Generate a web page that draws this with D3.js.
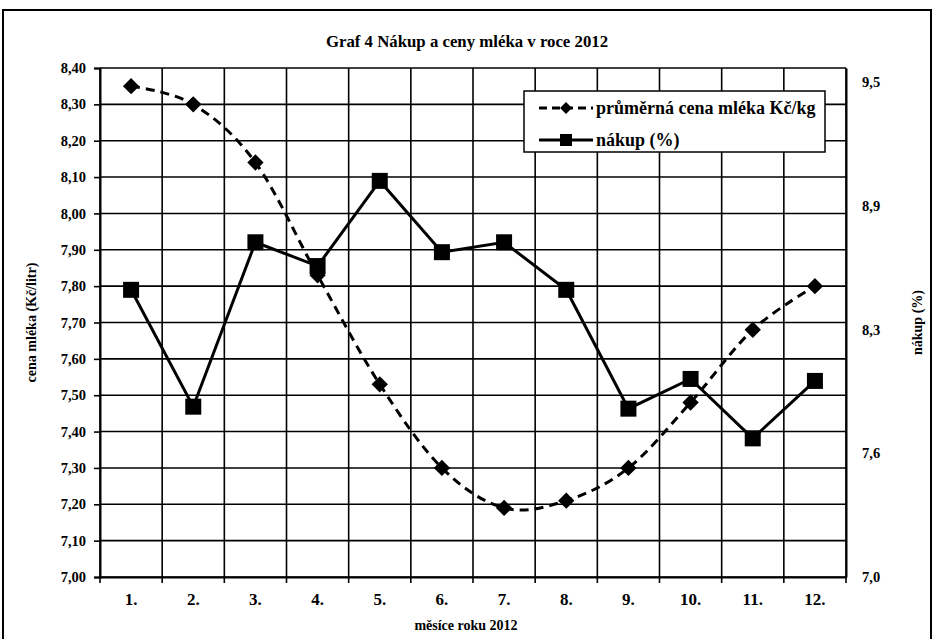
<!DOCTYPE html>
<html>
<head>
<meta charset="utf-8">
<script src="https://cdn.jsdelivr.net/npm/d3@7"></script>
<style>
  html, body { margin: 0; padding: 0; background: #fff; }
  svg { display: block; font-family: "Liberation Serif", "Times New Roman", serif; font-weight: bold; }
</style>
</head>
<body>
<svg id="chart" width="933" height="639"></svg>
<script>
// Months of 2012
const months = ["1.", "2.", "3.", "4.", "5.", "6.", "7.", "8.", "9.", "10.", "11.", "12."];
// Average milk price (Kč/litr), left axis
const price = [8.35, 8.30, 8.14, 7.83, 7.53, 7.30, 7.19, 7.21, 7.30, 7.48, 7.68, 7.80];
// Purchase (%), right axis
const purchase = [8.45, 7.86, 8.69, 8.57, 9.00, 8.64, 8.69, 8.45, 7.85, 8.00, 7.70, 7.99];
// Axis ticks
const leftTicks = d3.range(0, 15).map(i => 7 + i * 0.1);
const rightTicks = [7.0, 7.625, 8.25, 8.875, 9.5];

const svg = d3.select("#chart");
const W = 933, H = 639;
const plot = { left: 100, top: 68, right: 846, bottom: 577 };
const FONT = "Liberation Serif";

// outer frame
svg.append("rect").attr("x", 3).attr("y", 10).attr("width", W - 5).attr("height", H - 9)
  .attr("fill", "none").attr("stroke", "#000").attr("stroke-width", 2);

const x = d3.scaleBand().domain(months).range([plot.left, plot.right]).padding(0);
const yL = d3.scaleLinear().domain([7.0, 8.4]).range([plot.bottom, plot.top]);
const yR = d3.scaleLinear().domain([7.0, 9.57]).range([plot.bottom, plot.top]);
const fmt2 = d => d3.format(".2f")(d).replace(".", ",");
const fmt1 = d => d3.format(".1f")(d).replace(".", ",");

// horizontal gridlines
svg.append("g").selectAll("line").data(leftTicks).join("line")
  .attr("x1", plot.left).attr("x2", plot.right)
  .attr("y1", d => yL(d)).attr("y2", d => yL(d))
  .attr("stroke", "#000").attr("stroke-width", 1.6);

// vertical gridlines at category boundaries
const bounds = months.map(m => x(m)).concat([plot.right]);
svg.append("g").selectAll("line").data(bounds).join("line")
  .attr("x1", d => d).attr("x2", d => d)
  .attr("y1", plot.top).attr("y2", plot.bottom)
  .attr("stroke", "#000").attr("stroke-width", 1.6);

// left axis
const gL = svg.append("g").attr("transform", `translate(${plot.left},0)`)
  .call(d3.axisLeft(yL).tickValues(leftTicks).tickFormat(fmt2).tickSize(6).tickPadding(8));
gL.select(".domain").attr("stroke-width", 2);
gL.selectAll(".tick line").attr("stroke-width", 1.6);
gL.selectAll("text").attr("font-size", 14.5).attr("font-family", FONT).attr("font-weight", "bold").attr("fill", "#000");

// bottom axis
const gB = svg.append("g").attr("transform", `translate(0,${plot.bottom})`)
  .call(d3.axisBottom(x).tickSize(0).tickPadding(16));
gB.select(".domain").attr("stroke-width", 2);
gB.selectAll("text").attr("font-size", 17).attr("font-family", FONT).attr("font-weight", "bold").attr("fill", "#000");
// bottom tick marks at category boundaries
svg.append("g").selectAll("line").data(bounds).join("line")
  .attr("x1", d => d).attr("x2", d => d)
  .attr("y1", plot.bottom).attr("y2", plot.bottom + 6)
  .attr("stroke", "#000").attr("stroke-width", 1.6);

// right axis labels
const gR = svg.append("g").attr("transform", `translate(${plot.right},0)`)
  .call(d3.axisRight(yR).tickValues(rightTicks).tickFormat(fmt1).tickSize(0).tickPadding(16));
gR.select(".domain").attr("stroke-width", 2);
gR.selectAll("text").attr("font-size", 14.5).attr("font-family", FONT).attr("font-weight", "bold").attr("fill", "#000");

// title
svg.append("text").attr("x", 467).attr("y", 47).attr("text-anchor", "middle")
  .attr("font-size", 16.8).text("Graf 4 Nákup a ceny mléka v roce 2012");

// axis titles
svg.append("text").attr("x", 466).attr("y", 630).attr("text-anchor", "middle")
  .attr("font-size", 14).text("měsíce roku 2012");
svg.append("text").attr("transform", `translate(36,${(plot.top + plot.bottom) / 2}) rotate(-90)`)
  .attr("text-anchor", "middle").attr("font-size", 14).text("cena mléka (Kč/litr)");
svg.append("text").attr("transform", `translate(922,${(plot.top + plot.bottom) / 2}) rotate(-90)`)
  .attr("text-anchor", "middle").attr("font-size", 14).text("nákup (%)");

const cx = m => x(m) + x.bandwidth() / 2;

// price line (smoothed, dashed)
const priceLine = d3.line().x((d, i) => cx(months[i])).y(d => yL(d)).curve(d3.curveCatmullRom.alpha(0));
svg.append("path").datum(price).attr("d", priceLine)
  .attr("fill", "none").attr("stroke", "#000").attr("stroke-width", 3).attr("stroke-dasharray", "9,6");

// purchase line (straight, solid)
const purchLine = d3.line().x((d, i) => cx(months[i])).y(d => yR(d));
svg.append("path").datum(purchase).attr("d", purchLine)
  .attr("fill", "none").attr("stroke", "#000").attr("stroke-width", 3);

// markers
const diamond = d3.symbol().type(d3.symbolDiamond2).size(170);
svg.append("g").selectAll("path").data(price).join("path")
  .attr("d", diamond)
  .attr("transform", (d, i) => `translate(${cx(months[i])},${yL(d)})`)
  .attr("fill", "#000");
svg.append("g").selectAll("rect").data(purchase).join("rect")
  .attr("x", (d, i) => cx(months[i]) - 8).attr("y", d => yR(d) - 8)
  .attr("width", 16).attr("height", 16).attr("fill", "#000");

// legend
const lg = svg.append("g");
lg.append("rect").attr("x", 524).attr("y", 91).attr("width", 301).attr("height", 61)
  .attr("fill", "#fff").attr("stroke", "#000").attr("stroke-width", 1.5);
const rows = [
  { label: "průměrná cena mléka Kč/kg", y: 108, dash: "8,5", marker: "diamond" },
  { label: "nákup (%)", y: 140, dash: null, marker: "square" }
];
rows.forEach(r => {
  lg.append("line").attr("x1", 539).attr("x2", 593).attr("y1", r.y).attr("y2", r.y)
    .attr("stroke", "#000").attr("stroke-width", 3).attr("stroke-dasharray", r.dash);
  if (r.marker === "diamond") {
    lg.append("path").attr("d", d3.symbol().type(d3.symbolDiamond2).size(90))
      .attr("transform", `translate(566,${r.y})`).attr("fill", "#000");
  } else {
    lg.append("rect").attr("x", 560).attr("y", r.y - 6).attr("width", 12).attr("height", 12).attr("fill", "#000");
  }
  lg.append("text").attr("x", 596).attr("y", r.y + 6).attr("font-size", 18).text(r.label);
});
</script>
</body>
</html>
